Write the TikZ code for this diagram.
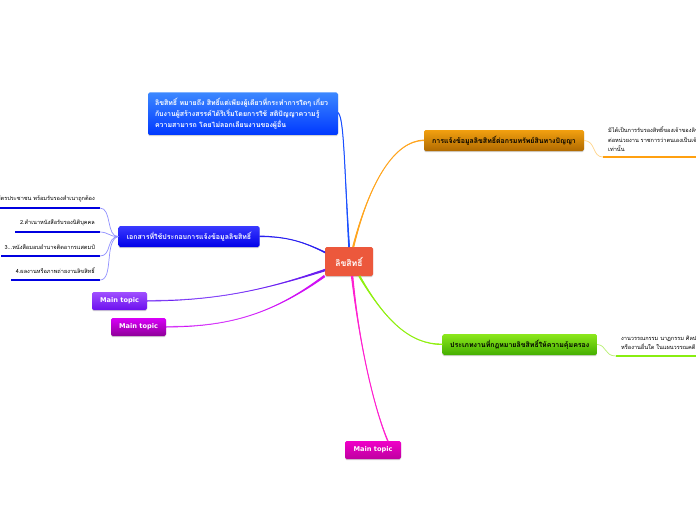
\documentclass[tikz,border=0pt]{standalone}
\usepackage{fontspec}
\newfontfamily\thaifont[Script=Thai]{Loma}
\newfontfamily\latinfont{DejaVu Sans}
\usetikzlibrary{shadows}
\definecolor{cblue}{HTML}{1A50FF}
\definecolor{cdoc}{HTML}{2A20F0}
\definecolor{corange}{HTML}{FFA51E}
\definecolor{cgreen}{HTML}{90F010}
\definecolor{cpurple}{HTML}{6A20F0}
\definecolor{lpurple}{HTML}{A878FF}
\definecolor{cmag}{HTML}{D010F5}
\definecolor{lmag}{HTML}{E070FF}
\definecolor{cpink}{HTML}{FF20D0}
\definecolor{bluetop}{HTML}{3C88FF}
\definecolor{bluebot}{HTML}{0038FF}
\definecolor{doctop}{HTML}{3A3AFF}
\definecolor{docbot}{HTML}{0000E8}
\definecolor{orgtop}{HTML}{F2A010}
\definecolor{orgbot}{HTML}{B06A00}
\definecolor{grntop}{HTML}{8CE81C}
\definecolor{grnbot}{HTML}{44AE00}
\definecolor{purtop}{HTML}{A050FF}
\definecolor{purbot}{HTML}{6C10EE}
\definecolor{magtop}{HTML}{D800F8}
\definecolor{magbot}{HTML}{8E0098}
\definecolor{pnktop}{HTML}{F000C8}
\definecolor{pnkbot}{HTML}{BE00A0}
\definecolor{ctrred}{HTML}{EC583C}
\definecolor{subblue}{HTML}{9090FF}
\definecolor{barblue}{HTML}{0000E0}
\definecolor{barorg}{HTML}{FFA010}
\definecolor{subog}{HTML}{FFD488}
\definecolor{barg}{HTML}{88EE10}
\definecolor{subg}{HTML}{B8F070}
\tikzset{
  box/.style={rounded corners=1.6pt,inner sep=0pt,align=center,drop shadow={shadow xshift=0pt,shadow yshift=-1.2pt,opacity=.35}},
  wbox/.style={box,text=white,font=\thaifont\bfseries\fontsize{7}{11}\selectfont},
  kbox/.style={box,text=black,font=\thaifont\bfseries\fontsize{7}{10}\selectfont},
  mainbox/.style={box,text=white,font=\latinfont\bfseries\fontsize{6.6}{9}\selectfont,minimum width=55pt,minimum height=18pt},
  subtxt/.style={font=\thaifont\fontsize{5.6}{9.5}\selectfont,text=black,inner sep=0pt},
  subconn/.style={line width=.7pt},
  bar/.style={line width=2pt}
}
% connector: a full-length stroke, then a fill that widens towards the centre
% #1 stroke colour, #2 fill colour, #3 #4 start points, #5 #6 controls, #7 #8 end points
\newcommand\taperconn[8]{%
  \draw[#1,line width=1pt] (#3) .. controls (#5) and (#6) .. ($(#7)!.5!(#8)$);
  \path[fill=#2] (#3) .. controls (#5) and (#6) .. (#7) -- (#8) .. controls (#6) and (#5) .. (#4) -- cycle;}
\usetikzlibrary{calc}
\begin{document}
\begin{tikzpicture}[x=1pt,y=-1pt]
\useasboundingbox (0,0) rectangle (696,520);
\clip (0,0) rectangle (696,520);
\fill[white] (0,0) rectangle (696,520);
% boxes
\node[wbox,fill=ctrred,minimum width=48pt,minimum height=29pt,font=\thaifont\bfseries\fontsize{8.6}{10}\selectfont] (ctr) at (349,261.5) {ลิขสิทธิ์};
\node[wbox,top color=bluetop,bottom color=bluebot,minimum width=190pt,minimum height=42.5pt,align=left,text width=176pt] (blue) at (243,113.7)
  {ลิขสิทธิ์ หมายถึง สิทธิ์แต่เพียงผู้เดียวที่กระทำการใดๆ เกี่ยว\\กับงานผู้สร้างสรรค์ได้ริเริ่มโดยการใช้ สติปัญญาความรู้\\ความสามารถ โดยไม่ลอกเลียนงานของผู้อื่น};
\node[wbox,top color=doctop,bottom color=docbot,minimum width=141pt,minimum height=21pt] (doc) at (189,236.5) {เอกสารที่ใช้ประกอบการแจ้งข้อมูลลิขสิทธิ์};
\node[kbox,top color=orgtop,bottom color=orgbot,minimum width=160pt,minimum height=21pt] (org) at (504,140.5) {การแจ้งข้อมูลลิขสิทธิ์ต่อกรมทรัพย์สินทางปัญญา};
\node[kbox,top color=grntop,bottom color=grnbot,minimum width=154.5pt,minimum height=21pt] (grn) at (519.7,344.5) {ประเภทงานที่กฎหมายลิขสิทธิ์ให้ความคุ้มครอง};
\node[mainbox,top color=purtop,bottom color=purbot] (m1) at (119.5,301) {Main topic};
\node[mainbox,top color=magtop,bottom color=magbot] (m2) at (138.5,327) {Main topic};
\node[mainbox,top color=pnktop,bottom color=pnkbot,minimum width=56pt] (m3) at (373,450) {Main topic};
% left sub topics
\coordinate (l1a) at (-5,208); \coordinate (l1b) at (100,208);
\coordinate (l2a) at (15,232); \coordinate (l2b) at (100,232);
\coordinate (l3a) at (1,256); \coordinate (l3b) at (100,256);
\coordinate (l4a) at (11,280); \coordinate (l4b) at (100,280);
\node[subtxt,anchor=east] (t1) at (95,199) {1.สำเนาบัตรประชาชน พร้อมรับรองสำเนาถูกต้อง};
\node[subtxt,anchor=east] (t2) at (95,223) {2.สำเนาหนังสือรับรองนิติบุคคล};
\node[subtxt,anchor=east] (t3) at (95,247) {3...หนังสือมอบอำนาจติดอากรแสตมป์};
\node[subtxt,anchor=east] (t4) at (95,271) {4.ผลงานหรือภาพถ่ายงานลิขสิทธิ์};
\draw[bar,barblue] (l1a) -- (l1b);
\draw[bar,barblue] (l2a) -- (l2b);
\draw[bar,barblue] (l3a) -- (l3b);
\draw[bar,barblue] (l4a) -- (l4b);
\draw[subconn,subblue] (doc.west) .. controls (106,237) and (112,208) .. (l1b);
\draw[subconn,subblue] (doc.west) .. controls (110,237) and (108,232) .. (l2b);
\draw[subconn,subblue] (doc.west) .. controls (106,237) and (112,256) .. (l3b);
\draw[subconn,subblue] (doc.west) .. controls (104,240) and (114,280) .. (l4b);
% right sub topics
\coordinate (r1a) at (603,157); \coordinate (r1b) at (700,157);
\coordinate (r2a) at (616,356); \coordinate (r2b) at (700,356);
\node[subtxt,anchor=north west,align=left] (t5) at (608,126.5) {มิได้เป็นการรับรองสิทธิ์ของเจ้าของลิขสิทธิ์\\ต่อหน่วยงาน ราชการว่าตนเองเป็นเจ้าของ\\เท่านั้น};
\node[subtxt,anchor=north west,align=left] (t6) at (621,335.5) {งานวรรณกรรม นาฏกรรม ศิลปกรรม ดนตรี\\หรืองานอื่นใด ในแผนวรรณคดี};
\draw[bar,barorg] (r1a) -- (r1b);
\draw[bar,barg] (r2a) -- (r2b);
\draw[subconn,subog] (org.east) .. controls (596,141) and (592,157) .. (r1a);
\draw[subconn,subg] (grn.east) .. controls (607,345) and (604,356) .. (r2a);
% main connectors
\coordinate (bl1) at (338,112.5); \coordinate (bl2) at (338,113.5);
\coordinate (ce1) at (350,247);  \coordinate (ce2) at (348.2,247);
\taperconn{cblue}{cblue}{bl1}{bl2}{344,118}{344,160}{ce1}{ce2}
\coordinate (do1) at (259.5,236); \coordinate (do2) at (259.5,237);
\coordinate (cd1) at (325,251.5); \coordinate (cd2) at (325,253.3);
\taperconn{cdoc}{cdoc}{do1}{do2}{285,237}{300,240}{cd1}{cd2}
\coordinate (or1) at (424,140); \coordinate (or2) at (424,141);
\coordinate (co1) at (354.2,247.3); \coordinate (co2) at (352.2,246.7);
\taperconn{corange}{corange}{or1}{or2}{395,141}{370,180}{co1}{co2}
\coordinate (gr1) at (442.5,344); \coordinate (gr2) at (442.5,345);
\coordinate (cg1) at (360.2,275.4); \coordinate (cg2) at (358.4,276.6);
\taperconn{cgreen}{cgreen}{gr1}{gr2}{410,345}{385,320}{cg1}{cg2}
\coordinate (p1) at (147,300.5); \coordinate (p2) at (147,301.5);
\coordinate (cp1) at (325,268.8); \coordinate (cp2) at (325,271.4);
\taperconn{lpurple}{cpurple}{p1}{p2}{220,301}{270,288}{cp1}{cp2}
\coordinate (q1) at (166,326.5); \coordinate (q2) at (166,327.5);
\coordinate (cq1) at (324,274.9); \coordinate (cq2) at (325.2,277.1);
\taperconn{lmag}{cmag}{q1}{q2}{225,327}{270,316}{cq1}{cq2}
\coordinate (k1) at (387.6,441); \coordinate (k2) at (388.6,441);
\coordinate (ck1) at (350.9,276); \coordinate (ck2) at (353.3,276);
\taperconn{cpink}{cpink}{k1}{k2}{375,410}{360,350}{ck1}{ck2}
\end{tikzpicture}
\end{document}
